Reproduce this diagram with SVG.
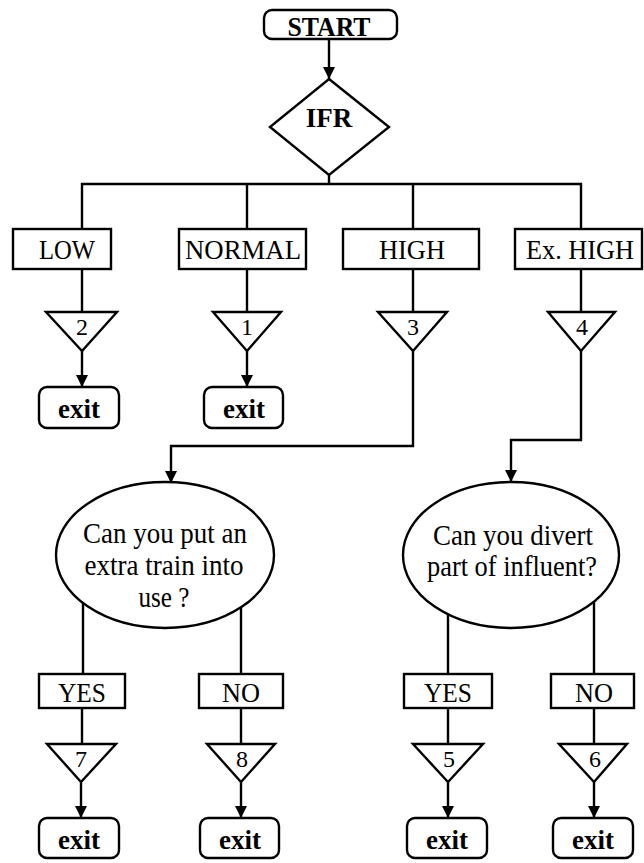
<svg xmlns="http://www.w3.org/2000/svg" width="644" height="863" viewBox="0 0 644 863">
  <style>
    .shape { fill: #fff; stroke: #000; stroke-width: 2.4; }
    .wire { fill: none; stroke: #000; stroke-width: 2.4; }
    .lbl { font-family: "Liberation Serif", "Times New Roman", serif; font-size: 27px; fill: #000; text-anchor: middle; }
    .bold { font-weight: bold; }
    .num { font-family: "Liberation Serif", "Times New Roman", serif; font-size: 24px; fill: #000; text-anchor: middle; }
    .q { font-family: "Liberation Serif", "Times New Roman", serif; font-size: 29px; fill: #000; text-anchor: middle; }
  </style>
  <defs>
    <marker id="arrow" markerUnits="userSpaceOnUse" markerWidth="12" markerHeight="12" viewBox="0 0 12 12" refX="12" refY="6" orient="auto">
      <path d="M0 0 L12 6 L0 12 Z" fill="#000"/>
    </marker>
  </defs>

  <rect width="644" height="863" fill="#fff"/>

  <!-- connectors -->
  <g id="connectors" class="wire">
    <path d="M329 39 V79" marker-end="url(#arrow)"/>
    <path d="M329 175 V184"/>
    <path d="M82 229 V184 H581 V229"/>
    <path d="M247 184 V229"/>
    <path d="M413 184 V229"/>
    <path d="M82 269 V312"/>
    <path d="M247 269 V312"/>
    <path d="M413 269 V312"/>
    <path d="M581 269 V312"/>
    <path d="M82 351 V387" marker-end="url(#arrow)"/>
    <path d="M247 351 V387" marker-end="url(#arrow)"/>
    <path d="M413 351 V446 H171 V483" marker-end="url(#arrow)"/>
    <path d="M581 351 V440 H511 V482" marker-end="url(#arrow)"/>
    <path d="M83 580 V674"/>
    <path d="M241 580 V674"/>
    <path d="M448 580 V674"/>
    <path d="M594 580 V674"/>
    <path d="M82 708 V744"/>
    <path d="M241 708 V744"/>
    <path d="M448 708 V744"/>
    <path d="M594 708 V744"/>
    <path d="M81 782 V818" marker-end="url(#arrow)"/>
    <path d="M241 782 V818" marker-end="url(#arrow)"/>
    <path d="M448 782 V818" marker-end="url(#arrow)"/>
    <path d="M594 782 V818" marker-end="url(#arrow)"/>
  </g>

  <!-- start terminal -->
  <g id="start">
    <rect class="shape" x="264" y="10" width="133" height="29" rx="8"/>
    <text class="lbl bold" x="329" y="36" font-size="22" textLength="83" lengthAdjust="spacingAndGlyphs">START</text>
  </g>

  <!-- IFR decision -->
  <g id="ifr">
    <polygon class="shape" points="329,79 389,127 329,175 270,127"/>
    <text class="lbl bold" x="329" y="127" font-size="27">IFR</text>
  </g>

  <!-- IFR levels -->
  <g id="low">
    <rect class="shape" x="13" y="229" width="98" height="40"/>
    <text class="lbl" x="67" y="259" textLength="56" lengthAdjust="spacingAndGlyphs">LOW</text>
  </g>
  <g id="normal">
    <rect class="shape" x="179" y="229" width="127" height="40"/>
    <text class="lbl" x="243" y="259" textLength="116" lengthAdjust="spacingAndGlyphs">NORMAL</text>
  </g>
  <g id="high">
    <rect class="shape" x="343" y="229" width="136" height="40"/>
    <text class="lbl" x="412" y="259" textLength="66" lengthAdjust="spacingAndGlyphs">HIGH</text>
  </g>
  <g id="exhigh">
    <rect class="shape" x="515" y="229" width="127" height="40"/>
    <text class="lbl" x="580" y="259" textLength="108" lengthAdjust="spacingAndGlyphs">Ex. HIGH</text>
  </g>

  <!-- numbered markers, upper row -->
  <g id="tri2">
    <polygon class="shape" points="46,312 117,312 82,351"/>
    <text class="num" x="82" y="335">2</text>
  </g>
  <g id="tri1">
    <polygon class="shape" points="213,312 281,312 247,351"/>
    <text class="num" x="247" y="335">1</text>
  </g>
  <g id="tri3">
    <polygon class="shape" points="378,312 447,312 413,351"/>
    <text class="num" x="413" y="335">3</text>
  </g>
  <g id="tri4">
    <polygon class="shape" points="548,312 615,312 581,351"/>
    <text class="num" x="582" y="335">4</text>
  </g>

  <!-- upper exits -->
  <g id="exit2">
    <rect class="shape" x="39" y="387" width="80" height="41" rx="8"/>
    <text class="lbl bold" x="79" y="418" font-size="27" textLength="42" lengthAdjust="spacingAndGlyphs">exit</text>
  </g>
  <g id="exit1">
    <rect class="shape" x="204" y="387" width="79" height="41" rx="8"/>
    <text class="lbl bold" x="244" y="418" font-size="27" textLength="42" lengthAdjust="spacingAndGlyphs">exit</text>
  </g>

  <!-- questions -->
  <g id="q-train">
    <ellipse class="shape" cx="165" cy="555" rx="109" ry="73"/>
    <text class="q" x="165" y="543" textLength="164" lengthAdjust="spacingAndGlyphs">Can you put an</text>
    <text class="q" x="164" y="575" textLength="159" lengthAdjust="spacingAndGlyphs">extra train into</text>
    <text class="q" x="164" y="607" textLength="51" lengthAdjust="spacingAndGlyphs">use ?</text>
  </g>
  <g id="q-divert">
    <ellipse class="shape" cx="511" cy="555" rx="108" ry="73"/>
    <text class="q" x="513" y="545" textLength="160" lengthAdjust="spacingAndGlyphs">Can you divert</text>
    <text class="q" x="512" y="576" textLength="170" lengthAdjust="spacingAndGlyphs">part of influent?</text>
  </g>

  <!-- answers -->
  <g id="yes-train">
    <rect class="shape" x="39" y="674" width="86" height="34"/>
    <text class="lbl" x="82" y="702" textLength="48" lengthAdjust="spacingAndGlyphs">YES</text>
  </g>
  <g id="no-train">
    <rect class="shape" x="199" y="674" width="84" height="34"/>
    <text class="lbl" x="241" y="702" textLength="38" lengthAdjust="spacingAndGlyphs">NO</text>
  </g>
  <g id="yes-divert">
    <rect class="shape" x="404" y="674" width="88" height="34"/>
    <text class="lbl" x="448" y="702" textLength="48" lengthAdjust="spacingAndGlyphs">YES</text>
  </g>
  <g id="no-divert">
    <rect class="shape" x="551" y="674" width="83" height="34"/>
    <text class="lbl" x="594" y="702" textLength="38" lengthAdjust="spacingAndGlyphs">NO</text>
  </g>

  <!-- numbered markers, lower row -->
  <g id="tri7">
    <polygon class="shape" points="47,744 116,744 81,782"/>
    <text class="num" x="81" y="767">7</text>
  </g>
  <g id="tri8">
    <polygon class="shape" points="207,744 275,744 241,782"/>
    <text class="num" x="242" y="767">8</text>
  </g>
  <g id="tri5">
    <polygon class="shape" points="413,744 483,744 448,782"/>
    <text class="num" x="449" y="767">5</text>
  </g>
  <g id="tri6">
    <polygon class="shape" points="559,744 627,744 594,782"/>
    <text class="num" x="595" y="767">6</text>
  </g>

  <!-- lower exits -->
  <g id="exit7">
    <rect class="shape" x="39" y="818" width="80" height="40" rx="8"/>
    <text class="lbl bold" x="79" y="849" font-size="27" textLength="42" lengthAdjust="spacingAndGlyphs">exit</text>
  </g>
  <g id="exit8">
    <rect class="shape" x="200" y="818" width="79" height="40" rx="8"/>
    <text class="lbl bold" x="240" y="849" font-size="27" textLength="42" lengthAdjust="spacingAndGlyphs">exit</text>
  </g>
  <g id="exit5">
    <rect class="shape" x="407" y="818" width="80" height="40" rx="8"/>
    <text class="lbl bold" x="447" y="849" font-size="27" textLength="42" lengthAdjust="spacingAndGlyphs">exit</text>
  </g>
  <g id="exit6">
    <rect class="shape" x="553" y="818" width="80" height="40" rx="8"/>
    <text class="lbl bold" x="593" y="849" font-size="27" textLength="42" lengthAdjust="spacingAndGlyphs">exit</text>
  </g>
</svg>
